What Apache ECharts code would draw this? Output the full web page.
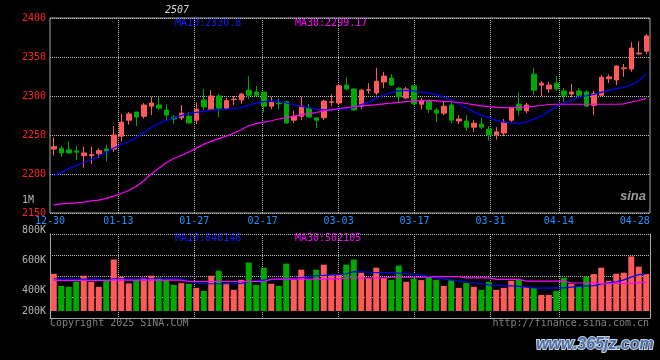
<!DOCTYPE html>
<html><head><meta charset="utf-8">
<script src="https://cdn.jsdelivr.net/npm/echarts@6/dist/echarts.min.js"></script>
<style>html,body{margin:0;padding:0;background:#000;}#c{width:660px;height:360px;}</style>
</head><body><div id="c"></div>
<script>
const dates = ['12-30','12-31','01-02','01-03','01-06','01-07','01-08','01-09','01-10','01-13',
 '01-14','01-15','01-16','01-17','01-20','01-21','01-22','01-23','01-24','01-27',
 '02-05','02-06','02-07','02-10','02-11','02-12','02-13','02-14','02-17',
 '02-18','02-19','02-20','02-21','02-24','02-25','02-26','02-27','02-28','03-03',
 '03-04','03-05','03-06','03-07','03-10','03-11','03-12','03-13','03-14','03-17',
 '03-18','03-19','03-20','03-21','03-24','03-25','03-26','03-27','03-28','03-31',
 '04-01','04-02','04-03','04-07','04-08','04-09','04-10','04-11','04-14',
 '04-15','04-16','04-17','04-18','04-21','04-22','04-23','04-24','04-25','04-28',
 '04-29','04-30'];
const open = [2232,2233,2231,2229.5,2223.5,2223.5,2226,2232,2232,2248.5,
 2269,2279.5,2274,2287,2288.5,2282,2273,2272,2274,2269,
 2295,2283,2300,2284.5,2295.5,2295,2307.5,2305,2305,2287,
 2291,2292.5,2269,2274,2284.5,2272,2272,2292,2291,2314,
 2309,2287,2307.5,2304,2318,2323,2310,2297.5,2313,2289.5,
 2293.5,2282,2278,2288.5,2268,2268,2260,2264,2257.5,2250,
 2252.5,2269,2289.5,2281,2328,2314,2309,2316.5,2306.5,2302.5,
 2306.5,2305,2288,2301,2322,2320.5,2335,2334.5,2354,2357.5];
const close = [2235,2227,2227,2228,2227,2225,2230,2229.5,2250,2266.5,
 2277,2273,2288.5,2291,2284.5,2275.5,2270.5,2278,2265.5,2283,
 2286,2300,2284.5,2294,2296,2302.5,2301,2301,2287,2292,
 2290,2265.5,2274,2287,2273,2269,2293.5,2292.5,2313,2309,
 2282,2307.5,2308,2319,2325.5,2314,2299,2309,2290,2293.5,
 2283,2278,2287,2269,2270.5,2260,2265,2260,2250,2254,
 2266.5,2284.5,2282,2288.5,2307.5,2316.5,2314,2309,2301,2305,
 2301,2287,2303,2324,2324.5,2338.5,2336,2361.5,2355,2377];
const low = [2224,2222,2226,2218,2208,2213,2220.5,2216,2228.5,2241.5,
 2263,2261.5,2271,2275.5,2282,2268,2264,2269,2264,2264,
 2282,2282,2273,2283,2288.5,2290,2296,2300,2279.5,2283,
 2283,2264,2265.5,2269,2273,2259,2269,2287,2288.5,2307.5,
 2281,2283,2302.5,2301,2310,2313,2291,2296,2288.5,2283,
 2278,2266.5,2275.5,2265,2264,2255,2254,2257.5,2242.5,2244,
 2248.5,2266.5,2275.5,2278,2301,2300,2304,2306.5,2292,2298.5,
 2300,2286,2275.5,2300,2316.5,2314,2324.5,2331,2353,2354];
const high = [2247,2236,2242,2236,2235,2235,2233,2237.5,2261.5,2277,
 2279.5,2279.5,2291,2299,2299,2289.5,2275.5,2288.5,2279.5,2291.5,
 2309,2307.5,2302.5,2297.5,2300,2304,2325.5,2313,2305,2299,
 2297,2293.5,2281,2299,2290,2272,2295,2302.5,2315.5,2324,
 2310,2309,2316.5,2336,2331,2328,2311.5,2311.5,2313,2297.5,
 2295,2284.5,2293.5,2293.5,2275.5,2275.5,2269,2272,2261.5,2260,
 2270.5,2286,2304,2291,2336,2319,2318,2325.5,2310,2315.5,
 2310,2307.5,2307,2327,2328,2339,2341,2369,2370,2379.5];
const ma10 = [2197.8,2202.1,2206.9,2210.9,2214.7,2218.6,2222.4,2227.8,2233.3,2237.8,
 2241.7,2246.8,2253.2,2259.7,2264.6,2268.6,2271.9,2274.9,2277.7,2279.0,
 2280.4,2282.1,2282.1,2282.8,2283.8,2285.1,2288.0,2290.9,2292.7,2293.2,
 2293.2,2291.0,2288.7,2286.8,2284.9,2282.9,2282.1,2282.2,2283.2,2283.6,
 2285.5,2289.0,2292.2,2296.7,2301.0,2304.6,2306.5,2307.3,2306.5,2304.6,
 2303.6,2301.8,2298.5,2294.9,2289.4,2284.5,2279.6,2275.1,2272.3,2268.8,
 2266.5,2265.6,2265.1,2266.6,2270.3,2274.4,2280.3,2286.2,2290.8,2294.6,
 2298.5,2300.3,2302.1,2304.7,2307.3,2309.5,2311.0,2314.1,2319.5,2328.0];
const ma30 = [2160.5,2161.7,2162.3,2163.0,2164.0,2165.5,2166.5,2168.8,2171.7,2175.0,
 2178.8,2184.1,2191.3,2200.0,2207.3,2214.5,2219.9,2223.7,2228.0,2233.2,
 2238.0,2241.9,2245.3,2248.5,2252.2,2256.7,2261.9,2264.6,2266.5,2268.3,
 2270.5,2272.3,2274.1,2275.9,2277.6,2278.8,2281.0,2282.3,2284.0,2285.0,
 2286.2,2287.3,2288.0,2288.9,2289.9,2290.8,2291.8,2292.7,2293.5,2294.1,
 2294.4,2293.8,2293.1,2292.6,2291.7,2290.4,2288.9,2287.3,2286.4,2285.5,
 2285.0,2285.0,2285.4,2286.0,2286.8,2287.8,2289.1,2289.4,2289.4,2289.4,
 2289.4,2289.4,2289.4,2289.4,2289.4,2289.4,2290.0,2292.3,2294.2,2297.0];
const volume = [511000,431000,425000,460000,498000,458000,425000,471000,605000,491000,
 447000,471000,485000,498000,485000,471000,438000,449000,445000,418000,
 398000,498000,531000,447000,405000,471000,585000,438000,551000,445000,
 431000,578000,471000,538000,471000,538000,571000,505000,505000,571000,
 605000,518000,482000,551000,482000,471000,565000,458000,478000,469000,
 491000,471000,431000,471000,418000,451000,425000,405000,458000,405000,
 418000,465000,471000,425000,418000,371000,371000,398000,485000,445000,
 431000,491000,509000,551000,465000,511000,518000,625000,558000,509000];
const volMa10 = [478000,476000,476000,476000,476000,478000,476000,465000,478000,478000,
 478000,478000,478000,478000,478000,478000,478000,478000,465000,451000,
 445000,445000,445000,445000,445000,447000,458000,465000,469000,471000,
 473000,478000,478000,485000,491000,498000,500000,503000,505000,511000,
 525000,523000,521000,518000,518000,518000,515000,511000,509000,501000,
 493000,485000,475000,469000,463000,458000,451000,445000,438000,435000,
 431000,431000,428000,423000,418000,416000,416000,418000,418000,423000,
 427000,431000,433000,443000,451000,458000,471000,489000,505000,511000];
const volMa30 = [467000,467000,467000,467000,467000,467000,467000,467000,469000,469000,
 469000,469000,469000,469000,469000,469000,469000,469000,460000,460000,
 460000,460000,460000,460000,460000,460000,460000,460000,460000,475000,
 475000,475000,475000,475000,475000,475000,475000,477000,477000,483000,
 483000,483000,483000,483000,483000,488000,488000,488000,488000,488000,
 488000,492000,492000,492000,492000,484000,484000,484000,484000,474000,
 474000,474000,474000,462000,462000,462000,462000,462000,462000,450000,
 450000,450000,450000,444000,445000,447000,448000,449000,453000,456000];
const priceTicks = {min: 2150, max: 2400, step: 50};
const volLabelValues = [265000, 400000, 600000, 800000];
const volLabelTexts = ['200K', '400K', '600K', '800K'];
const labelDates = ['12-30','01-13','01-27','02-17','03-03','03-17','03-31','04-14','04-28'];
const gridDates = ['01-13','01-27','02-17','03-03','03-17','03-31','04-14'];

const mono = '"DejaVu Sans Mono", monospace';
const upColor = '#ff5a5a', downColor = '#00a800';
const frameColor = '#a8a8a8';
const dotLine = {show: true, lineStyle: {color: '#b8b8b8', type: 'dotted', width: 1}};
const candleData = dates.map((d, i) => [open[i], close[i], low[i], high[i]]);

const chart = echarts.init(document.getElementById('c'), null, {renderer: 'canvas', width: 660, height: 360});
chart.setOption({
  backgroundColor: '#000',
  animation: false,
  grid: [
    {left: 50, top: 18, width: 600, height: 195, show: true, borderColor: frameColor, borderWidth: 1, backgroundColor: 'transparent'},
    {left: 50, top: 230, width: 600, height: 81},
    {left: 50, top: 234, width: 600, height: 84}
  ],
  xAxis: [
    {type: 'category', gridIndex: 0, data: dates, boundaryGap: true, show: false},
    {type: 'category', gridIndex: 0, data: dates, boundaryGap: false, position: 'bottom',
     axisLine: {show: false}, axisTick: {show: false},
     axisLabel: {interval: (i, v) => labelDates.includes(v), color: '#1e90ff', fontFamily: mono, fontSize: 10, margin: 3, hideOverlap: false},
     splitLine: {show: true, interval: (i, v) => gridDates.includes(v), lineStyle: {color: '#b8b8b8', type: 'dotted', width: 1}}},
    {type: 'category', gridIndex: 1, data: dates, boundaryGap: true, show: false},
    {type: 'category', gridIndex: 2, data: dates, boundaryGap: false, position: 'bottom',
     axisLine: {show: true, lineStyle: {color: frameColor, width: 1}}, axisTick: {show: false}, axisLabel: {show: false},
     splitLine: {show: true, interval: (i, v) => gridDates.includes(v), lineStyle: {color: '#b8b8b8', type: 'dotted', width: 1}}}
  ],
  yAxis: [
    {type: 'value', gridIndex: 0, min: priceTicks.min, max: priceTicks.max, interval: priceTicks.step,
     axisLine: {show: false}, axisTick: {show: false},
     axisLabel: {color: '#ff2020', fontFamily: mono, fontSize: 10, margin: 4, formatter: v => String(v)},
     splitLine: dotLine},
    {type: 'value', gridIndex: 1, min: 265000, max: 800000,
     axisLine: {show: false}, axisTick: {show: false}, splitLine: {show: false},
     axisLabel: {customValues: volLabelValues, showMinLabel: true, showMaxLabel: true,
       formatter: v => { const k = volLabelValues.indexOf(v); return k >= 0 ? volLabelTexts[k] : ''; },
       color: '#b4b4b4', fontFamily: mono, fontSize: 10, margin: 4}},
    {type: 'value', gridIndex: 2, min: 0, max: 4, interval: 1,
     axisLine: {show: true, lineStyle: {color: frameColor, width: 1}}, axisTick: {show: false}, axisLabel: {show: false},
     splitLine: dotLine},
    {type: 'value', gridIndex: 2, min: 0, max: 4, interval: 1, position: 'right',
     axisLine: {show: true, lineStyle: {color: frameColor, width: 1}}, axisTick: {show: false}, axisLabel: {show: false},
     splitLine: {show: false}}
  ],
  series: [
    {type: 'candlestick', xAxisIndex: 0, yAxisIndex: 0, data: candleData, barWidth: 5,
     itemStyle: {color: upColor, color0: downColor, borderColor: upColor, borderColor0: downColor, borderWidth: 1}},
    {type: 'line', xAxisIndex: 0, yAxisIndex: 0, data: ma10, symbol: 'none', lineStyle: {color: '#0000ff', width: 1.2}, z: 3},
    {type: 'line', xAxisIndex: 0, yAxisIndex: 0, data: ma30, symbol: 'none', lineStyle: {color: '#ff00ff', width: 1.2}, z: 3},
    {type: 'bar', xAxisIndex: 2, yAxisIndex: 1, data: volume, barWidth: 6,
     itemStyle: {color: p => close[p.dataIndex] >= open[p.dataIndex] ? upColor : downColor}},
    {type: 'line', xAxisIndex: 2, yAxisIndex: 1, data: volMa10, symbol: 'none', lineStyle: {color: '#0000ff', width: 1.2}, z: 3},
    {type: 'line', xAxisIndex: 2, yAxisIndex: 1, data: volMa30, symbol: 'none', lineStyle: {color: '#ff00ff', width: 1.2}, z: 3}
  ],
  graphic: [
    {type: 'text', x: 177, y: 10, style: {text: '2507', fill: '#d8d8d8', font: 'italic 10px ' + mono, align: 'center', verticalAlign: 'middle'}},
    {type: 'text', x: 175, y: 23.5, style: {text: 'MA10:2330.8', fill: '#1a1aff', font: '10px ' + mono, align: 'left', verticalAlign: 'middle'}},
    {type: 'text', x: 295, y: 23.5, style: {text: 'MA30:2299.17', fill: '#ff00ff', font: '10px ' + mono, align: 'left', verticalAlign: 'middle'}},
    {type: 'text', x: 175, y: 238.5, style: {text: 'MA10:646146', fill: '#1a1aff', font: '10px ' + mono, align: 'left', verticalAlign: 'middle'}},
    {type: 'text', x: 295, y: 238.5, style: {text: 'MA30:502105', fill: '#ff00ff', font: '10px ' + mono, align: 'left', verticalAlign: 'middle'}},
    {type: 'text', x: 28, y: 200, style: {text: '1M', fill: '#b4b4b4', font: '10px ' + mono, align: 'center', verticalAlign: 'middle'}},
    {type: 'text', x: 50, y: 323, style: {text: 'Copyright 2025 SINA.COM', fill: '#808080', font: '10px ' + mono, align: 'left', verticalAlign: 'middle'}},
    {type: 'text', x: 649, y: 323, style: {text: 'http://finance.sina.com.cn', fill: '#808080', font: '10px ' + mono, align: 'right', verticalAlign: 'middle'}},
    {type: 'text', x: 633, y: 196, style: {text: 'sina', fill: '#9a9a9a', font: 'italic bold 13px "Liberation Sans"', align: 'center', verticalAlign: 'middle'}},
    {type: 'text', x: 595, y: 345, style: {text: 'www.365jz.com', fill: '#4d6e9e', stroke: '#c8d4e6', lineWidth: 2, font: 'italic bold 16px "Liberation Sans"', align: 'center', verticalAlign: 'middle'}}
  ]
});
</script></body></html>
